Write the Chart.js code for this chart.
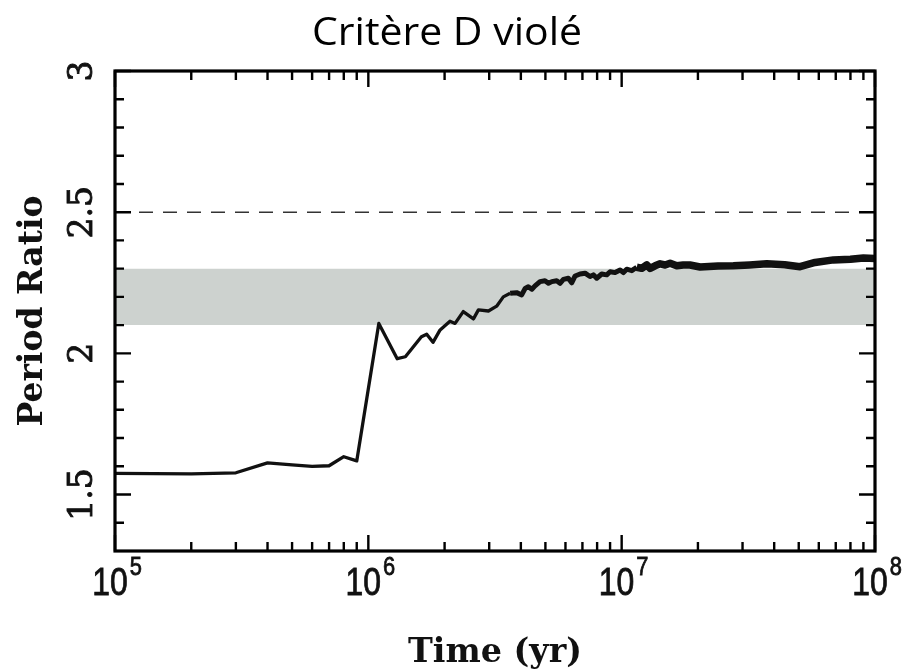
<!DOCTYPE html>
<html>
<head>
<meta charset="utf-8">
<script src="https://cdn.jsdelivr.net/npm/chart.js@4/dist/chart.umd.min.js"></script>
<style>
  html, body { margin: 0; padding: 0; background: #fff; }
  #wrap { width: 910px; height: 672px; }
</style>
</head>
<body>
<div id="wrap"><canvas id="c" width="910" height="672"></canvas></div>
<script>
// ---------- data ----------
const titleText = 'Critère D violé';
const xAxisTitle = 'Time (yr)';
const yAxisTitle = 'Period Ratio';

const times = [
  1.0e5, 2.0e5, 3.0e5, 4.0e5, 5.0e5, 6.0e5, 7.0e5, 8.0e5, 9.0e5,
  1.1e6, 1.3e6, 1.4e6, 1.62e6, 1.7e6, 1.8e6, 1.92e6, 2.1e6, 2.2e6, 2.37e6,
  2.6e6, 2.72e6, 2.98e6, 3.21e6, 3.41e6, 3.63e6, 3.85e6, 4.03e6, 4.16e6,
  4.28e6, 4.42e6, 4.55e6, 4.76e6, 4.98e6, 5.14e6, 5.30e6, 5.54e6, 5.71e6,
  5.89e6, 6.16e6, 6.35e6, 6.55e6, 6.85e6, 7.17e6, 7.50e6, 7.73e6, 7.97e6,
  8.34e6, 8.73e6, 9.00e6, 9.42e6, 9.86e6, 1.016e7, 1.047e7, 1.096e7,
  1.147e7, 1.20e7, 1.256e7, 1.295e7, 1.355e7, 1.418e7, 1.484e7, 1.553e7,
  1.65e7, 1.75e7, 1.86e7, 2.04e7, 2.4e7, 2.76e7, 3.2e7, 3.74e7, 4.4e7,
  5.06e7, 5.8e7, 6.85e7, 8.0e7, 9.0e7, 1.0e8
];
const ratios = [
  1.575, 1.573, 1.577, 1.612, 1.605, 1.600, 1.602, 1.634, 1.619,
  2.106, 1.981, 1.988, 2.059, 2.068, 2.039, 2.083, 2.114, 2.106, 2.148,
  2.122, 2.154, 2.150, 2.167, 2.200, 2.213, 2.215, 2.207, 2.230,
  2.236, 2.227, 2.239, 2.254, 2.257, 2.248, 2.254, 2.257, 2.248,
  2.262, 2.266, 2.250, 2.274, 2.281, 2.284, 2.272, 2.278, 2.266,
  2.281, 2.278, 2.289, 2.286, 2.295, 2.286, 2.298, 2.293,
  2.305, 2.301, 2.313, 2.301, 2.310, 2.317, 2.313, 2.319,
  2.310, 2.313, 2.313, 2.306, 2.309, 2.310, 2.313, 2.317, 2.314,
  2.307, 2.322, 2.331, 2.333, 2.338, 2.336
];

const xRange = [1e5, 1e8];
const yRange = [1.3, 3];
const bandLow = 2.1;
const bandHigh = 2.3;
const refRatio = 2.5;

const xMajorTicks = [1e5, 1e6, 1e7, 1e8];
const xTickExponents = ['5', '6', '7', '8'];
const xMinorTicks = [
  2e5, 3e5, 4e5, 5e5, 6e5, 7e5, 8e5, 9e5,
  2e6, 3e6, 4e6, 5e6, 6e6, 7e6, 8e6, 9e6,
  2e7, 3e7, 4e7, 5e7, 6e7, 7e7, 8e7, 9e7
];
const yMajorTicks = [1.5, 2, 2.5, 3];
const yTickLabels = ['1.5', '2', '2.5', '3'];
const yMinorTicks = [1.4, 1.6, 1.7, 1.8, 1.9, 2.1, 2.2, 2.3, 2.4, 2.6, 2.7, 2.8, 2.9];

// ---------- build ----------
const linePts = times.map((t, i) => ({ x: t, y: ratios[i] }));
const edge = v => [{ x: xRange[0], y: v }, { x: xRange[1], y: v }];

const decor = {
  id: 'decor',
  afterDraw(chart) {
    const { ctx, chartArea: a, scales: { x, y } } = chart;
    ctx.save();
    ctx.strokeStyle = '#000';
    ctx.lineCap = 'butt';
    ctx.lineWidth = 2.4;
    ctx.beginPath();
    xMajorTicks.forEach(v => {
      const p = x.getPixelForValue(v);
      ctx.moveTo(p, a.bottom); ctx.lineTo(p, a.bottom - 16);
      ctx.moveTo(p, a.top); ctx.lineTo(p, a.top + 16);
    });
    xMinorTicks.forEach(v => {
      const p = x.getPixelForValue(v);
      ctx.moveTo(p, a.bottom); ctx.lineTo(p, a.bottom - 9);
      ctx.moveTo(p, a.top); ctx.lineTo(p, a.top + 9);
    });
    yMajorTicks.forEach(v => {
      const p = y.getPixelForValue(v);
      ctx.moveTo(a.left, p); ctx.lineTo(a.left + 16, p);
      ctx.moveTo(a.right, p); ctx.lineTo(a.right - 16, p);
    });
    yMinorTicks.forEach(v => {
      const p = y.getPixelForValue(v);
      ctx.moveTo(a.left, p); ctx.lineTo(a.left + 9, p);
      ctx.moveTo(a.right, p); ctx.lineTo(a.right - 9, p);
    });
    ctx.stroke();
    ctx.lineWidth = 3.2;
    ctx.strokeRect(a.left, a.top, a.right - a.left, a.bottom - a.top);

    ctx.fillStyle = '#111';
    ctx.strokeStyle = '#111';
    // y tick labels (rotated)
    ctx.font = '33px "DejaVu Serif"';
    ctx.textAlign = 'center';
    ctx.textBaseline = 'alphabetic';
    ctx.lineWidth = 0.9;
    yMajorTicks.forEach((v, i) => {
      const p = y.getPixelForValue(v);
      ctx.save();
      ctx.translate(92, p);
      ctx.rotate(-Math.PI / 2);
      ctx.fillText(yTickLabels[i], 0, 0);
      ctx.strokeText(yTickLabels[i], 0, 0);
      ctx.restore();
    });
    // x tick labels 10^n
    xMajorTicks.forEach((v, i) => {
      const p = x.getPixelForValue(v);
      const sx = 0.84;
      ctx.font = '38px "Liberation Sans"';
      const w1 = ctx.measureText('10').width * sx;
      ctx.font = '26px "Liberation Sans"';
      const w2 = ctx.measureText(xTickExponents[i]).width * sx;
      const start = p - (w1 + w2 + 2) / 2 + 2;
      ctx.textAlign = 'left';
      ctx.lineWidth = 0.8;
      ctx.save();
      ctx.translate(start, 595); ctx.scale(sx, 1);
      ctx.font = '38px "Liberation Sans"';
      ctx.fillText('10', 0, 0);
      ctx.strokeText('10', 0, 0);
      ctx.restore();
      ctx.save();
      ctx.translate(start + w1 + 2, 575); ctx.scale(sx, 1);
      ctx.font = '26px "Liberation Sans"';
      ctx.fillText(xTickExponents[i], 0, 0);
      ctx.strokeText(xTickExponents[i], 0, 0);
      ctx.restore();
    });
    // axis titles
    const fitText = (txt, font, cx, cy, targetW, rot) => {
      ctx.save();
      ctx.font = font;
      const w = ctx.measureText(txt).width;
      ctx.translate(cx, cy);
      if (rot) ctx.rotate(rot);
      ctx.scale(targetW / w, 1);
      ctx.textAlign = 'center';
      ctx.fillText(txt, 0, 0);
      ctx.restore();
    };
    ctx.fillStyle = '#111';
    fitText(xAxisTitle, 'bold 34px "DejaVu Serif"', (a.left + a.right) / 2, 662, 174, 0);
    fitText(yAxisTitle, 'bold 34px "DejaVu Serif"', 42, (a.top + a.bottom) / 2, 231, -Math.PI / 2);
    ctx.fillStyle = '#000';
    fitText(titleText, '38px "Open Sans"', 447, 45, 270, 0);
    ctx.restore();
  }
};

new Chart(document.getElementById('c'), {
  type: 'line',
  data: {
    datasets: [
      {
        label: 'Period ratio',
        data: linePts,
        borderColor: '#111',
        borderWidth: 3.3,
        borderJoinStyle: 'round',
        pointRadius: 0,
        tension: 0,
        fill: false,
        segment: {
          borderWidth: c => c.p0.parsed.x >= 1.1e7 ? 7.5 : (c.p0.parsed.x >= 3.5e6 ? 5 : 3.3)
        }
      },
      {
        label: 'ref',
        data: edge(refRatio),
        borderColor: '#333',
        borderWidth: 1.6,
        borderDash: [14, 10],
        pointRadius: 0,
        fill: false
      },
      {
        label: 'band high',
        data: edge(bandHigh),
        borderWidth: 0,
        borderColor: 'rgba(0,0,0,0)',
        backgroundColor: '#cdd2cf',
        pointRadius: 0,
        fill: '+1'
      },
      {
        label: 'band low',
        data: edge(bandLow),
        borderWidth: 0,
        borderColor: 'rgba(0,0,0,0)',
        pointRadius: 0,
        fill: false
      }
    ]
  },
  options: {
    responsive: false,
    animation: false,
    events: [],
    layout: { padding: { top: 71, right: 35, left: 0, bottom: 0 } },
    plugins: { legend: { display: false }, title: { display: false }, tooltip: { enabled: false } },
    scales: {
      x: {
        type: 'logarithmic', min: xRange[0], max: xRange[1],
        grid: { display: false }, border: { display: false },
        ticks: { display: false },
        afterFit: s => { s.height = 121; }
      },
      y: {
        type: 'linear', min: yRange[0], max: yRange[1],
        grid: { display: false }, border: { display: false },
        ticks: { display: false },
        afterFit: s => { s.width = 115; }
      }
    }
  },
  plugins: [decor]
});
</script>
</body>
</html>
